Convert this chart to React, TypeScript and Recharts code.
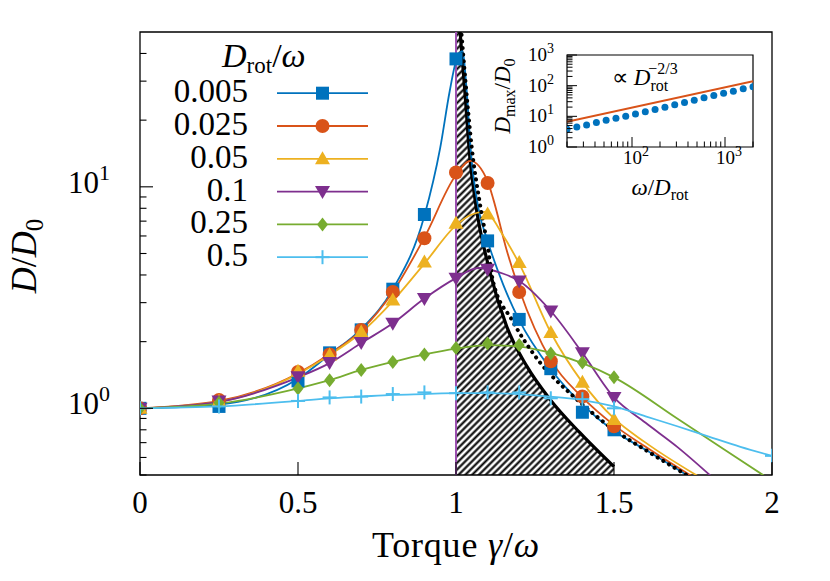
import {
  ComposedChart,
  Line,
  Scatter,
  Area,
  XAxis,
  YAxis,
  ReferenceLine,
  ReferenceArea,
  Legend,
} from 'recharts'

document.body.style.margin = '0'

const FONT = "'Liberation Serif', 'Times New Roman', serif"

// legend: D_rot / omega
const rotNames = ['0.005', '0.025', '0.05', '0.1', '0.25', '0.5']
const rotColors = ['#0072BD', '#D95319', '#EDB120', '#7E2F8E', '#77AC30', '#4DBEEE']
const rotMarkers = ['square', 'circle', 'triangleUp', 'triangleDown', 'diamond', 'plus']

// simulation points (markers)
const simTorque = [0, 0.25, 0.5, 0.6, 0.7, 0.8, 0.9, 1.0, 1.1, 1.2, 1.3, 1.4, 1.5]
const simTorqueLast = [0, 0.25, 0.5, 0.6, 0.7, 0.8, 0.9, 1.0, 1.1, 1.2, 1.3, 1.4, 1.5, 2.0]
const sim005 = [1.0, 1.02, 1.33, 1.78, 2.26, 3.45, 7.5, 37.8, 5.7, 2.52, 1.51, 0.96, 0.8]
const sim025 = [1.0, 1.09, 1.46, 1.75, 2.26, 3.35, 5.86, 11.6, 10.4, 3.35, 1.63, 1.13, 0.83]
const sim05 = [1.0, 1.08, 1.47, 1.74, 2.21, 3.08, 4.58, 6.85, 7.53, 4.55, 2.2, 1.31, 0.89]
const sim1 = [1.0, 1.08, 1.39, 1.61, 1.98, 2.42, 3.13, 3.87, 4.25, 3.76, 2.75, 1.78, 1.12]
const sim25 = [1.0, 1.06, 1.23, 1.34, 1.49, 1.62, 1.75, 1.87, 1.96, 1.93, 1.77, 1.61, 1.38]
const sim5 = [1.0, 1.02, 1.08, 1.12, 1.13, 1.16, 1.18, 1.17, 1.18, 1.18, 1.11, 1.1, 1.0, 0.61]

// theory curves
const curveX005 = [0, 0.25, 0.5, 0.6, 0.7, 0.8, 0.9, 0.95, 0.98, 1.0, 1.02, 1.034, 1.046, 1.071, 1.1, 1.15, 1.2, 1.3, 1.4, 1.5, 1.6, 1.74]
const curveY005 = [1.0, 1.04, 1.36, 1.75, 2.28, 3.45, 7.4, 15, 27, 37, 41, 27, 15, 8, 5.7, 3.6, 2.5, 1.5, 1.04, 0.79, 0.65, 0.49]
const curveX025 = [0, 0.25, 0.5, 0.6, 0.7, 0.8, 0.9, 1.0, 1.045, 1.1, 1.118, 1.16, 1.2, 1.3, 1.4, 1.5, 1.6, 1.75]
const curveY025 = [1.0, 1.08, 1.44, 1.76, 2.25, 3.35, 5.9, 11.3, 13.1, 10.6, 8.8, 5.2, 3.45, 1.65, 1.12, 0.84, 0.67, 0.49]
const curveX05 = [0, 0.25, 0.5, 0.6, 0.7, 0.8, 0.9, 1.0, 1.05, 1.09, 1.15, 1.2, 1.3, 1.4, 1.5, 1.6, 1.77]
const curveY05 = [1.0, 1.07, 1.43, 1.74, 2.2, 3.05, 4.5, 6.7, 7.5, 7.7, 6.0, 4.5, 2.2, 1.31, 0.9, 0.7, 0.49]
const curveX1 = [0, 0.25, 0.5, 0.6, 0.7, 0.8, 0.9, 1.0, 1.07, 1.15, 1.2, 1.3, 1.4, 1.5, 1.6, 1.7, 1.81]
const curveY1 = [1.0, 1.07, 1.38, 1.6, 1.97, 2.42, 3.13, 3.87, 4.3, 4.05, 3.76, 2.75, 1.78, 1.12, 0.86, 0.67, 0.49]
const curveX25 = [0, 0.25, 0.5, 0.6, 0.7, 0.8, 0.9, 1.0, 1.1, 1.2, 1.3, 1.4, 1.5, 1.7, 1.85, 2.0]
const curveY25 = [1.0, 1.05, 1.23, 1.34, 1.49, 1.62, 1.75, 1.86, 1.93, 1.9, 1.78, 1.6, 1.38, 0.9, 0.65, 0.47]
const curveX5 = [0, 0.25, 0.5, 0.6, 0.7, 0.8, 0.9, 1.0, 1.1, 1.2, 1.3, 1.4, 1.5, 1.6, 1.7, 1.8, 1.9, 2.0]
const curveY5 = [1.0, 1.02, 1.08, 1.11, 1.13, 1.15, 1.16, 1.17, 1.17, 1.16, 1.13, 1.09, 1.02, 0.92, 0.83, 0.745, 0.67, 0.61]

// bound of the hatched region and dotted asymptote
const boundX = [1.0, 1.012, 1.028, 1.044, 1.06, 1.108, 1.16, 1.224, 1.297, 1.392, 1.5]
const boundY = [80, 52, 27, 13.5, 8.8, 4.1, 2.35, 1.55, 1.1, 0.776, 0.545]
const dottedX = [1.016, 1.03, 1.05, 1.075, 1.1, 1.118, 1.176, 1.266, 1.371, 1.5, 1.614, 1.74]
const dottedY = [52, 30, 15, 8.5, 5.4, 3.7, 2.52, 1.61, 1.135, 0.8, 0.63, 0.49]
const yFloor = 0.5

// axes
const xTicks = [0, 0.5, 1, 1.5, 2]
const xTickLabels = ['0', '0.5', '1', '1.5', '2']
const yTicks = [0.5, 0.6, 0.7, 0.8, 0.9, 1, 2, 3, 4, 5, 6, 7, 8, 9, 10, 20, 30, 40]
const yMajorTicks = [1, 10]
const yMajorExp = ['0', '1']

// inset: D_max/D_0 vs omega/D_rot
const insetOmega = [20, 25.5, 32.5, 41.4, 52.7, 67.2, 85.6, 109, 139, 177, 226, 288, 367, 467, 595, 758, 966, 1230, 1570, 2000]
const insetDmax = [3.78, 4.51, 5.25, 6.25, 7.45, 8.67, 10.1, 12.0, 14.0, 16.6, 19.8, 23.7, 28.2, 33.6, 40.1, 47.8, 57.0, 66.2, 79.0, 91.8]
const fitOmega = [20, 2000]
const fitD = [6.6, 140]
const insetXTicks = [20, 30, 40, 50, 60, 70, 80, 90, 100, 200, 300, 400, 500, 600, 700, 800, 900, 1000, 2000]
const insetXMajor = [100, 1000]
const insetXExp = ['2', '3']
const insetYTicks = [1, 2, 3, 4, 5, 6, 7, 8, 9, 10, 20, 30, 40, 50, 60, 70, 80, 90, 100, 200, 300, 400, 500, 600, 700, 800, 900, 1000]
const insetYMajor = [1, 10, 100, 1000]
const insetYExp = ['0', '1', '2', '3']

const toPoints = (xs: number[], ys: number[]) => xs.map((x, i) => ({ x, y: ys[i] }))

const simData = [
  toPoints(simTorque, sim005),
  toPoints(simTorque, sim025),
  toPoints(simTorque, sim05),
  toPoints(simTorque, sim1),
  toPoints(simTorque, sim25),
  toPoints(simTorqueLast, sim5),
]
const curveData = [
  toPoints(curveX005, curveY005),
  toPoints(curveX025, curveY025),
  toPoints(curveX05, curveY05),
  toPoints(curveX1, curveY1),
  toPoints(curveX25, curveY25),
  toPoints(curveX5, curveY5),
]
const boundData = boundX.map((x, i) => ({ x, y: boundY[i], band: [yFloor, boundY[i]] }))
const dottedData = toPoints(dottedX, dottedY)
const insetData = toPoints(insetOmega, insetDmax)
const fitData = toPoints(fitOmega, fitD)

function MarkerGlyph({ kind, cx, cy, color }: { kind: string; cx: number; cy: number; color: string }) {
  if (cx == null || cy == null) return null
  switch (kind) {
    case 'square':
      return <rect x={cx - 6.5} y={cy - 6.5} width={13} height={13} fill={color} />
    case 'circle':
      return <circle cx={cx} cy={cy} r={7} fill={color} />
    case 'triangleUp':
      return <polygon points={`${cx},${cy - 7.5} ${cx + 7.5},${cy + 5.5} ${cx - 7.5},${cy + 5.5}`} fill={color} />
    case 'triangleDown':
      return <polygon points={`${cx},${cy + 7.5} ${cx + 7.5},${cy - 5.5} ${cx - 7.5},${cy - 5.5}`} fill={color} />
    case 'diamond':
      return <polygon points={`${cx},${cy - 7} ${cx + 5.5},${cy} ${cx},${cy + 7} ${cx - 5.5},${cy}`} fill={color} />
    default:
      return (
        <g stroke={color} strokeWidth={2}>
          <line x1={cx - 7} x2={cx + 7} y1={cy} y2={cy} />
          <line x1={cx} x2={cx} y1={cy - 7} y2={cy + 7} />
        </g>
      )
  }
}

function MainXTick(props: any) {
  const { x, y, payload } = props
  const i = xTicks.indexOf(payload.value)
  return (
    <g>
      <line x1={x} x2={x} y1={y} y2={y - 13} stroke="#000" strokeWidth={1.1} />
      <text x={x} y={y + 38} textAnchor="middle" fontFamily={FONT} fontSize={31} fill="#000">
        {xTickLabels[i]}
      </text>
    </g>
  )
}

function MainYTick(props: any) {
  const { x, y, payload } = props
  const i = yMajorTicks.indexOf(payload.value)
  const major = i >= 0
  return (
    <g>
      <line x1={x} x2={x + (major ? 13 : 6.5)} y1={y} y2={y} stroke="#000" strokeWidth={1.1} />
      {major && (
        <text x={x - 30} y={y + 6} textAnchor="end" fontFamily={FONT} fontSize={31} fill="#000">
          10
          <tspan fontSize={22} dy={-13}>
            {yMajorExp[i]}
          </tspan>
        </text>
      )}
    </g>
  )
}

function InsetXTick(props: any) {
  const { x, y, payload } = props
  const i = insetXMajor.indexOf(payload.value)
  const major = i >= 0
  return (
    <g>
      <line x1={x} x2={x} y1={y} y2={y - (major ? 10 : 5.5)} stroke="#000" strokeWidth={1} />
      {major && (
        <text x={x + 4} y={y + 17} textAnchor="middle" fontFamily={FONT} fontSize={19} fill="#000">
          10
          <tspan fontSize={14} dy={-8}>
            {insetXExp[i]}
          </tspan>
        </text>
      )}
    </g>
  )
}

function InsetYTick(props: any) {
  const { x, y, payload } = props
  const i = insetYMajor.indexOf(payload.value)
  const major = i >= 0
  return (
    <g>
      <line x1={x} x2={x + (major ? 10 : 5.5)} y1={y} y2={y} stroke="#000" strokeWidth={1} />
      {major && (
        <text x={x - 13} y={y + 6} textAnchor="end" fontFamily={FONT} fontSize={19} fill="#000">
          10
          <tspan fontSize={14} dy={-8}>
            {insetYExp[i]}
          </tspan>
        </text>
      )}
    </g>
  )
}

function RotLegend() {
  return (
    <svg width={240} height={250} style={{ overflow: 'visible', display: 'block' }}>
      <text x={72} y={37} fontFamily={FONT} fontSize={34} fill="#000">
        <tspan fontStyle="italic">D</tspan>
        <tspan fontSize={23} dy={6}>
          rot
        </tspan>
        <tspan dy={-6}>/</tspan>
        <tspan fontStyle="italic">ω</tspan>
      </text>
      {rotNames.map((name, i) => {
        const cy = 63.2 + 32.8 * i
        return (
          <g key={name}>
            <text x={98} y={cy + 9} textAnchor="end" fontFamily={FONT} fontSize={33} fill="#000">
              {name}
            </text>
            <line x1={127} x2={218} y1={cy} y2={cy} stroke={rotColors[i]} strokeWidth={1.8} />
            <MarkerGlyph kind={rotMarkers[i]} cx={172.5} cy={cy} color={rotColors[i]} />
          </g>
        )
      })}
    </svg>
  )
}

function Inset() {
  return (
    <ComposedChart width={310} height={190} margin={{ top: 35, right: 27, bottom: 33, left: 57 }}>
      <XAxis
        dataKey="x"
        type="number"
        scale="log"
        domain={[20, 2000]}
        allowDataOverflow
        ticks={insetXTicks}
        interval={0}
        tick={<InsetXTick />}
        tickSize={0}
        tickMargin={0}
        tickLine={false}
        axisLine={false}
        height={30}
      />
      <YAxis
        type="number"
        scale="log"
        domain={[1, 1000]}
        allowDataOverflow
        ticks={insetYTicks}
        interval={0}
        tick={<InsetYTick />}
        tickSize={0}
        tickMargin={0}
        tickLine={false}
        axisLine={false}
        width={40}
      />
      <ReferenceArea x1={20} x2={2000} y1={1} y2={1000} fill="none" stroke="#000" strokeWidth={1.2} />
      <Line data={fitData} dataKey="y" type="linear" stroke="#D95319" strokeWidth={2} dot={false} activeDot={false} isAnimationActive={false} />
      <Scatter
        data={insetData}
        dataKey="y"
        isAnimationActive={false}
        shape={(p: any) => <circle cx={p.cx} cy={p.cy} r={3.5} fill="#0072BD" />}
      />
      <text transform="translate(40,76) rotate(-90)" textAnchor="middle" fontFamily={FONT} fontSize={23} fill="#000">
        <tspan fontStyle="italic">D</tspan>
        <tspan fontSize={16} dy={5}>
          max
        </tspan>
        <tspan dy={-5}>/</tspan>
        <tspan fontStyle="italic">D</tspan>
        <tspan fontSize={16} dy={5}>
          0
        </tspan>
      </text>
      <text x={190} y={175} textAnchor="middle" fontFamily={FONT} fontSize={23} fill="#000">
        <tspan fontStyle="italic">ω</tspan>
        <tspan>/</tspan>
        <tspan fontStyle="italic">D</tspan>
        <tspan fontSize={16} dy={5}>
          rot
        </tspan>
      </text>
      <text x={142} y={65} fontFamily={FONT} fontSize={23} fill="#000">
        ∝ <tspan fontStyle="italic">D</tspan>
        <tspan fontSize={16} dy={6}>
          rot
        </tspan>
        <tspan fontSize={16} dx={-20} dy={-17}>
          −2/3
        </tspan>
      </text>
    </ComposedChart>
  )
}

export default function App() {
  return (
    <div style={{ position: 'relative', width: 830, height: 581, background: '#fff' }}>
      <ComposedChart width={830} height={581} margin={{ top: 32, right: 58, bottom: 76, left: 80 }}>
        <defs>
          <pattern id="hatch" patternUnits="userSpaceOnUse" width={4.8} height={4.8} patternTransform="rotate(45)">
            <line x1={2.4} x2={2.4} y1={0} y2={4.8} stroke="#000" strokeWidth={2.1} />
          </pattern>
        </defs>
        <XAxis
          dataKey="x"
          type="number"
          domain={[0, 2]}
          allowDataOverflow
          ticks={xTicks}
          interval={0}
          tick={<MainXTick />}
          tickSize={0}
          tickMargin={0}
          tickLine={false}
          axisLine={false}
          height={30}
        />
        <YAxis
          type="number"
          scale="log"
          domain={[0.5, 50]}
          allowDataOverflow
          ticks={yTicks}
          interval={0}
          tick={<MainYTick />}
          tickSize={0}
          tickMargin={0}
          tickLine={false}
          axisLine={false}
          width={60}
        />
        <Area
          data={boundData}
          dataKey="band"
          type="monotone"
          stroke="none"
          fill="url(#hatch)"
          fillOpacity={1}
          isAnimationActive={false}
          activeDot={false}
        />
        <Line data={boundData} dataKey="y" type="monotone" stroke="#000" strokeWidth={3.2} dot={false} activeDot={false} isAnimationActive={false} />
        <ReferenceLine x={1} stroke="#9B4FAF" strokeWidth={2} />
        {curveData.map((pts, i) => (
          <Line
            key={`curve-${i}`}
            data={pts}
            dataKey="y"
            type="monotone"
            stroke={rotColors[i]}
            strokeWidth={1.8}
            dot={false}
            activeDot={false}
            isAnimationActive={false}
          />
        ))}
        <Line
          data={dottedData}
          dataKey="y"
          type="monotone"
          stroke="#000"
          strokeWidth={4}
          strokeDasharray="0.1 6.5"
          strokeLinecap="round"
          dot={false}
          activeDot={false}
          isAnimationActive={false}
        />
        {simData.map((pts, i) => (
          <Scatter
            key={`sim-${i}`}
            data={pts}
            dataKey="y"
            isAnimationActive={false}
            shape={(p: any) => <MarkerGlyph kind={rotMarkers[i]} cx={p.cx} cy={p.cy} color={rotColors[i]} />}
          />
        ))}
        <ReferenceArea x1={0} x2={2} y1={0.5} y2={50} fill="none" stroke="#000" strokeWidth={1.3} />
        <Legend
          layout="vertical"
          align="center"
          verticalAlign="middle"
          wrapperStyle={{ left: 150, top: 30, width: 240, height: 250 }}
          content={() => <RotLegend />}
        />
        <text transform="translate(36,256) rotate(-90)" textAnchor="middle" fontFamily={FONT} fontSize={36} fill="#000">
          <tspan fontStyle="italic">D</tspan>
          <tspan>/</tspan>
          <tspan fontStyle="italic">D</tspan>
          <tspan fontSize={25} dy={7}>
            0
          </tspan>
        </text>
        <text x={456} y={557} textAnchor="middle" fontFamily={FONT} fontSize={36} letterSpacing={0.8} fill="#000">
          Torque <tspan fontStyle="italic">γ</tspan>/<tspan fontStyle="italic">ω</tspan>
        </text>
      </ComposedChart>
      <div style={{ position: 'absolute', left: 470, top: 20 }}>
        <Inset />
      </div>
    </div>
  )
}
